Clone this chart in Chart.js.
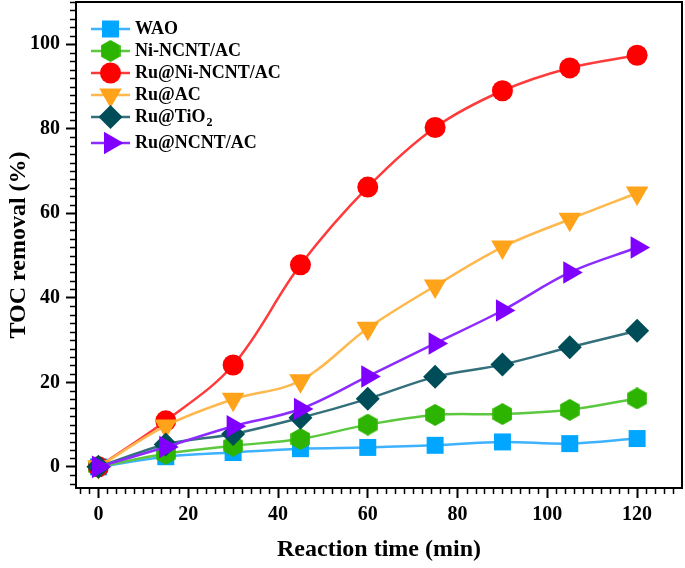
<!DOCTYPE html>
<html>
<head>
<meta charset="utf-8">
<script src="https://cdn.jsdelivr.net/npm/chart.js@4/dist/chart.umd.min.js"></script>
<style>
  html, body { margin: 0; padding: 0; background: #fff; }
  #wrap { width: 685px; height: 568px; }
</style>
</head>
<body>
<div id="wrap"><canvas id="chart"></canvas></div>
<script>
// =============================================================================
// Data
// =============================================================================
const times = [0, 15, 30, 45, 60, 75, 90, 105, 120];

const seriesNames = ['WAO', 'Ni-NCNT/AC', 'Ru@Ni-NCNT/AC', 'Ru@AC', 'Ru@TiO2', 'Ru@NCNT/AC'];

const wao       = [0, 2.4, 3.4, 4.3, 4.6, 5.1, 5.9, 5.5, 6.7];
const niNcntAc  = [0, 3.1, 5.0, 6.6, 10.0, 12.3, 12.5, 13.5, 16.2];
const ruNiNcnt  = [0, 10.9, 24.1, 47.8, 66.2, 80.3, 89.0, 94.4, 97.4];
const ruAc      = [0, 9.7, 16.0, 20.4, 32.8, 42.8, 52.0, 58.6, 64.8];
const ruTiO2    = [0, 5.3, 7.8, 11.6, 16.1, 21.3, 24.2, 28.3, 32.2];
const ruNcntAc  = [0, 4.7, 9.6, 13.7, 21.4, 29.2, 37.0, 46.0, 51.9];

const xTicks = [0, 20, 40, 60, 80, 100, 120];
const yTicks = [0, 20, 40, 60, 80, 100];

// =============================================================================
// Styling
// =============================================================================
const SERIF = "'Liberation Serif', 'Times New Roman', serif";

// marker colour / line colour per series
const COLORS = [
  { point: '#00a6ff', line: '#3eb2ff' },
  { point: '#2db400', line: '#5cc83f' },
  { point: '#ff0000', line: '#ff3a3a' },
  { point: '#ffa31a', line: '#ffb84d' },
  { point: '#004d5a', line: '#34707c' },
  { point: '#8000ff', line: '#8c2bff' }
];

function hexagonImage(color, w, h) {
  const c = document.createElement('canvas');
  c.width = w; c.height = h;
  const g = c.getContext('2d');
  g.fillStyle = color;
  g.beginPath();
  for (let i = 0; i < 6; i++) {
    const a = Math.PI / 2 + i * Math.PI / 3;
    g.lineTo(w / 2 + Math.cos(a) * w / 2 / Math.cos(Math.PI / 6) * 0.98, h / 2 + Math.sin(a) * h / 2);
  }
  g.closePath();
  g.fill();
  return c;
}

const MARKERS = [
  { style: 'rect', rotation: 0, radius: 12 },
  { style: hexagonImage(COLORS[1].point, 20, 22), rotation: 0, radius: 10 },
  { style: 'circle', rotation: 0, radius: 10.5 },
  { style: 'triangle', rotation: 180, radius: 13 },
  { style: 'rectRot', rotation: 0, radius: 12 },
  { style: 'triangle', rotation: 90, radius: 13 }
];

const seriesValues = [wao, niNcntAc, ruNiNcnt, ruAc, ruTiO2, ruNcntAc];

const datasets = seriesValues.map((vals, i) => ({
  label: seriesNames[i],
  data: vals.map((y, k) => ({ x: times[k], y })),
  borderColor: COLORS[i].line,
  backgroundColor: COLORS[i].point,
  borderWidth: 2.5,
  tension: 0.35,
  pointStyle: MARKERS[i].style,
  rotation: MARKERS[i].rotation,
  pointRadius: MARKERS[i].radius,
  pointHoverRadius: MARKERS[i].radius,
  pointBackgroundColor: COLORS[i].point,
  pointBorderColor: COLORS[i].point,
  pointBorderWidth: 0,
  order: seriesValues.length - i,
  clip: false
}));

// =============================================================================
// Plugins: frame, minor ticks, legend box
// =============================================================================
const framePlugin = {
  id: 'frame',
  afterDraw(chart) {
    const { ctx, chartArea: a, scales } = chart;
    ctx.save();
    ctx.strokeStyle = '#000';
    ctx.lineWidth = 2;
    ctx.strokeRect(a.left, a.top, a.right - a.left, a.bottom - a.top);

    // minor ticks every 2 units, outward
    ctx.lineWidth = 1.5;
    ctx.beginPath();
    for (let v = -4; v <= 130; v += 2) {
      if (v % 20 === 0) continue;
      const px = Math.round(scales.x.getPixelForValue(v)) + 0.5;
      if (px < a.left || px > a.right) continue;
      ctx.moveTo(px, a.bottom);
      ctx.lineTo(px, a.bottom + 6);
    }
    for (let v = -4; v <= 110; v += 2) {
      if (v % 20 === 0) continue;
      const py = Math.round(scales.y.getPixelForValue(v)) + 0.5;
      if (py < a.top || py > a.bottom) continue;
      ctx.moveTo(a.left, py);
      ctx.lineTo(a.left - 6, py);
    }
    ctx.stroke();
    ctx.restore();
  }
};

const legendPlugin = {
  id: 'lineLegend',
  afterDatasetsDraw(chart) {
    const { ctx, chartArea: a } = chart;
    const x0 = a.left + 15, x1 = a.left + 54, xm = (x0 + x1) / 2;
    let y = a.top + 27;
    ctx.save();
    chart.data.datasets.forEach((ds, i) => {
      ctx.strokeStyle = ds.borderColor;
      ctx.lineWidth = 2.5;
      ctx.beginPath();
      ctx.moveTo(x0, y);
      ctx.lineTo(x1, y);
      ctx.stroke();

      ctx.fillStyle = ds.pointBackgroundColor;
      ctx.strokeStyle = ds.pointBorderColor;
      Chart.helpers.drawPoint(ctx, {
        pointStyle: ds.pointStyle,
        rotation: ds.rotation,
        radius: ds.pointRadius,
        borderWidth: 0
      }, xm, y);

      ctx.fillStyle = '#000';
      ctx.textBaseline = 'middle';
      ctx.textAlign = 'left';
      ctx.font = 'bold 18px ' + SERIF;
      const tx = x1 + 5;
      const m = ds.label.match(/^(.*?)(\d)$/);
      if (m && ds.label === 'Ru@TiO2') {
        ctx.fillText(m[1], tx, y);
        const w = ctx.measureText(m[1]).width;
        ctx.font = 'bold 12px ' + SERIF;
        ctx.fillText(m[2], tx + w + 1, y + 6);
        y += 26;
      } else {
        ctx.fillText(ds.label, tx, y);
        y += 22;
      }
    });
    ctx.restore();
  }
};

// =============================================================================
// Chart
// =============================================================================
const tickFont = { family: SERIF, size: 20, weight: 'bold' };
const titleFont = { family: SERIF, size: 24, weight: 'bold' };

new Chart(document.getElementById('chart'), {
  type: 'line',
  data: { datasets },
  options: {
    responsive: true,
    maintainAspectRatio: false,
    animation: false,
    events: [],
    layout: { autoPadding: false, padding: { top: 2, right: 3, left: 0, bottom: 0 } },
    plugins: {
      legend: { display: false },
      tooltip: { enabled: false }
    },
    scales: {
      x: {
        type: 'linear',
        min: -5,
        max: 130,
        afterBuildTicks: s => { s.ticks = xTicks.map(v => ({ value: v })); },
        afterFit: s => { s.height = 80; s.paddingLeft = 0; s.paddingRight = 0; },
        ticks: { font: tickFont, color: '#000', padding: 5, maxRotation: 0 },
        grid: { drawOnChartArea: false, drawTicks: true, tickLength: 10, tickWidth: 2, tickColor: '#000' },
        border: { display: true, color: '#000', width: 2 },
        title: { display: true, text: 'Reaction time (min)', font: titleFont, color: '#000', padding: { top: 4 } }
      },
      y: {
        type: 'linear',
        min: -5,
        max: 110,
        afterBuildTicks: s => { s.ticks = yTicks.map(v => ({ value: v })); },
        afterFit: s => { s.width = 76; s.paddingTop = 0; s.paddingBottom = 0; },
        ticks: { font: tickFont, color: '#000', padding: 6 },
        grid: { drawOnChartArea: false, drawTicks: true, tickLength: 10, tickWidth: 2, tickColor: '#000' },
        border: { display: true, color: '#000', width: 2 },
        title: { display: true, text: 'TOC removal (%)', font: titleFont, color: '#000', padding: { bottom: 2 } }
      }
    }
  },
  plugins: [framePlugin, legendPlugin]
});
</script>
</body>
</html>
